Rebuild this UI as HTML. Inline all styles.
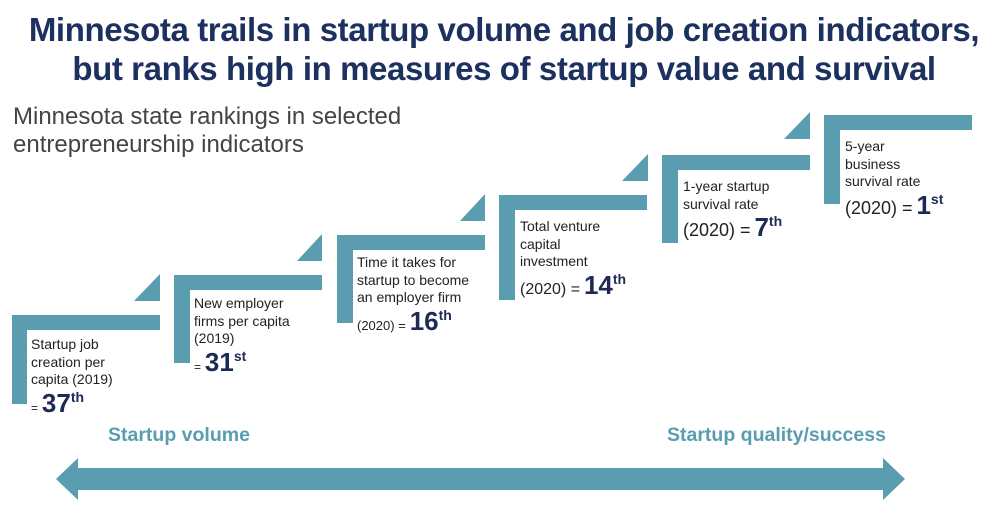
<!DOCTYPE html>
<html><head><meta charset="utf-8"><style>
html,body{margin:0;padding:0;background:#fff;}
body{width:1008px;height:517px;position:relative;overflow:hidden;font-family:"Liberation Sans",sans-serif;}
.t{position:absolute;left:0;width:1008px;text-align:center;color:#1d3160;font-size:33px;font-weight:bold;letter-spacing:-0.4px;white-space:nowrap;}
.sub{position:absolute;left:13px;top:103px;color:#444;font-size:24px;line-height:28px;}
.lbl{position:absolute;color:#222;font-size:14px;line-height:17.5px;white-space:nowrap;}
.big{font-weight:bold;color:#1d2a55;font-size:26px;}
.big sup{font-size:14px;vertical-align:10px;}
.cap{position:absolute;color:#5a9db1;font-weight:bold;font-size:19.5px;}
</style></head><body>
<div class="t" style="top:11px">Minnesota trails in startup volume and job creation indicators,</div>
<div class="t" style="top:50px">but ranks high in measures of startup value and survival</div>
<div class="sub">Minnesota state rankings in selected<br>entrepreneurship indicators</div>
<svg width="1008" height="517" style="position:absolute;left:0;top:0" xmlns="http://www.w3.org/2000/svg">
<g fill="#5a9db1">
<path d="M12 315H160V330H27V404H12Z"/>
<path d="M174 275H322V290H190V363H174Z"/>
<path d="M337 235H485V250H353V323H337Z"/>
<path d="M499 195H647V210H515V300H499Z"/>
<path d="M662 155H810V170H678V243H662Z"/>
<path d="M824 115H972V130H840V204H824Z"/>
<path d="M134 301L160 274V301Z"/>
<path d="M297 261L322 234V261Z"/>
<path d="M460 221L485 194V221Z"/>
<path d="M622 181L648 154V181Z"/>
<path d="M784 139L810 112V139Z"/>
<path d="M56 479L78 458V468H883V458L905 479L883 500V490H78V500Z"/>
</g>
</svg>
<div class="lbl" style="left:31px;top:336px">Startup job<br>creation per<br>capita (2019)<br><span style="font-size:12px">=</span> <span class="big">37<sup>th</sup></span></div>
<div class="lbl" style="left:194px;top:295px">New employer<br>firms per capita<br>(2019)<br><span style="font-size:12px">=</span> <span class="big">31<sup>st</sup></span></div>
<div class="lbl" style="left:357px;top:254px">Time it takes for<br>startup to become<br>an employer firm<br><span style="font-size:13px">(2020) =</span> <span class="big">16<sup>th</sup></span></div>
<div class="lbl" style="left:520px;top:218px">Total venture<br>capital<br>investment<br><span style="font-size:16px">(2020) =</span> <span class="big">14<sup>th</sup></span></div>
<div class="lbl" style="left:683px;top:178px">1-year startup<br>survival rate<br><span style="font-size:18px">(2020) =</span> <span class="big">7<sup>th</sup></span></div>
<div class="lbl" style="left:845px;top:138px">5-year<br>business<br>survival rate<br><span style="font-size:18px">(2020) =</span> <span class="big">1<sup>st</sup></span></div>
<div class="cap" style="left:108px;top:424px">Startup volume</div>
<div class="cap" style="left:667px;top:424px">Startup quality/success</div>
</body></html>
